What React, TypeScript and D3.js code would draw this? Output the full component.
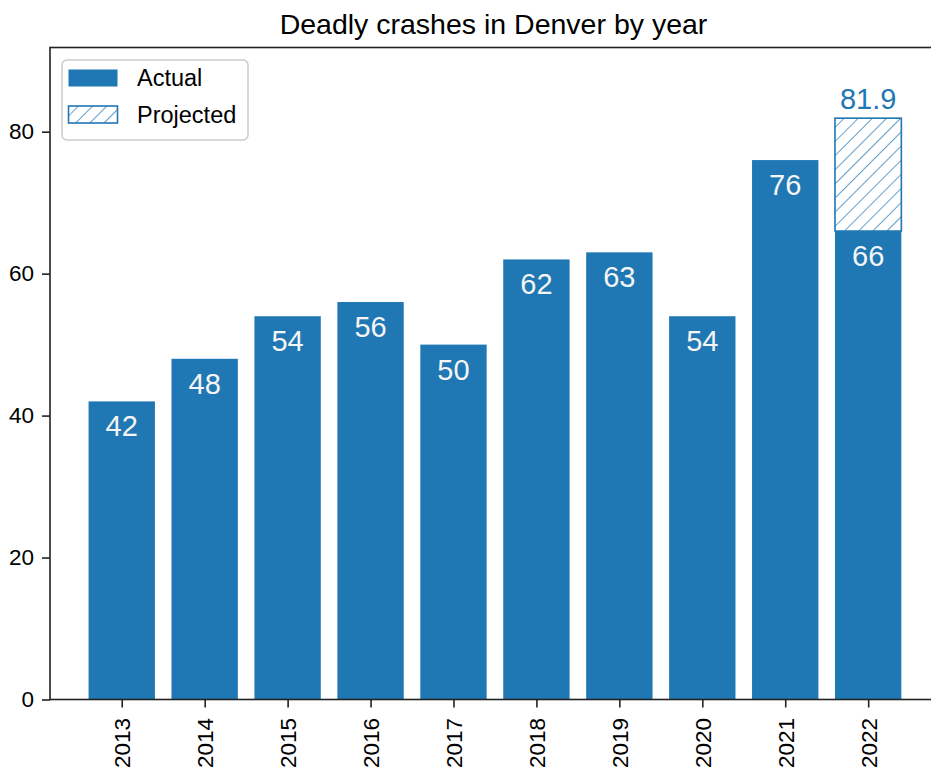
import React, { useEffect, useRef } from "react";
import { axisBottom, axisLeft, scaleLinear, select } from "d3";

// data
const years = ["2013", "2014", "2015", "2016", "2017", "2018", "2019", "2020", "2021", "2022"];
const actual = [42, 48, 54, 56, 50, 62, 63, 54, 76, 66];
const projected: (number | null)[] = [null, null, null, null, null, null, null, null, null, 81.9];
const yTicks = [0, 20, 40, 60, 80];

const FONT = "'Liberation Sans', Arial, Helvetica, sans-serif";
const BLUE = "#1f77b4";
const HATCH = 10;

export default function App() {
  const xAxisRef = useRef<SVGGElement>(null);
  const yAxisRef = useRef<SVGGElement>(null);

  const width = 931;
  const height = 771;
  const plot = { left: 50, right: 937, top: 47.5, bottom: 699.5 };

  const xScale = scaleLinear()
    .domain([-0.865, years.length - 1 + 0.83])
    .range([plot.left, plot.right]);
  const yScale = scaleLinear().domain([0, 91.86]).range([plot.bottom, plot.top]);
  const barW = xScale(0.8) - xScale(0);

  useEffect(() => {
    const gx = select(xAxisRef.current);
    gx.selectAll("*").remove();
    gx.call(
      axisBottom(xScale)
        .tickValues(years.map((_, i) => i))
        .tickFormat((i: any) => years[i])
        .tickSize(8)
        .tickSizeOuter(0)
    );
    gx.select(".domain").remove();
    gx.selectAll(".tick line").attr("stroke", "#222").attr("stroke-width", 1.6);
    gx.selectAll(".tick text")
      .attr("transform", "rotate(-90)")
      .attr("text-anchor", "end")
      .attr("x", -18.5)
      .attr("y", 0)
      .attr("dy", "0.36em")
      .attr("fill", "#000");
    gx.attr("font-family", FONT).attr("font-size", 22.5);

    const gy = select(yAxisRef.current);
    gy.selectAll("*").remove();
    gy.call(axisLeft(yScale).tickValues(yTicks).tickSize(8).tickPadding(8).tickSizeOuter(0));
    gy.select(".domain").remove();
    gy.selectAll(".tick line").attr("stroke", "#222").attr("stroke-width", 1.6);
    gy.selectAll(".tick text").attr("fill", "#000");
    gy.attr("font-family", FONT).attr("font-size", 22.5);
  }, []);

  return (
    <svg
      width={width}
      height={height}
      style={{ position: "absolute", left: 0, top: 0, background: "white" }}
    >
      <defs>
        <pattern
          id="hatch"
          patternUnits="userSpaceOnUse"
          width={HATCH}
          height={HATCH}
          patternTransform="rotate(45)"
        >
          <rect width={HATCH} height={HATCH} fill="white" />
          <line x1={0} y1={0} x2={0} y2={HATCH} stroke={BLUE} strokeWidth={1.4} />
        </pattern>
      </defs>

      <text
        x={(plot.left + plot.right) / 2}
        y={34}
        textAnchor="middle"
        fontFamily={FONT}
        fontSize={28.5}
        fill="#000"
      >
        Deadly crashes in Denver by year
      </text>

      {/* actual bars */}
      {actual.map((v, i) => (
        <rect
          key={"a" + i}
          x={xScale(i) - barW / 2}
          y={yScale(v)}
          width={barW}
          height={yScale(0) - yScale(v)}
          fill={BLUE}
        />
      ))}

      {/* projected part */}
      {projected.map((p, i) =>
        p == null ? null : (
          <g key={"p" + i}>
            <rect
              x={xScale(i) - barW / 2}
              y={yScale(p)}
              width={barW}
              height={yScale(actual[i]) - yScale(p)}
              fill="url(#hatch)"
              stroke={BLUE}
              strokeWidth={1.6}
            />
            <text
              x={xScale(i)}
              y={yScale(p) - 9}
              textAnchor="middle"
              fontFamily={FONT}
              fontSize={29}
              fill={BLUE}
            >
              {p}
            </text>
          </g>
        )
      )}

      {/* value labels */}
      {actual.map((v, i) => (
        <text
          key={"l" + i}
          x={xScale(i)}
          y={yScale(v) + 35}
          textAnchor="middle"
          fontFamily={FONT}
          fontSize={29}
          fill="#f5f5f5"
        >
          {v}
        </text>
      ))}

      {/* frame */}
      <rect
        x={plot.left}
        y={plot.top}
        width={plot.right - plot.left}
        height={plot.bottom - plot.top}
        fill="none"
        stroke="#222"
        strokeWidth={1.6}
      />

      <g ref={xAxisRef} transform={`translate(0,${plot.bottom})`} />
      <g ref={yAxisRef} transform={`translate(${plot.left},0)`} />

      {/* legend */}
      <g fontFamily={FONT} fontSize={23.5}>
        <rect x={62} y={60} width={186} height={80} rx={5} fill="white" fillOpacity={0.8} stroke="#cccccc" strokeWidth={1.5} />
        <rect x={68.5} y={69.5} width={49} height={17} fill={BLUE} />
        <text x={137} y={86} fill="#000">Actual</text>
        <rect x={68.5} y={106} width={49} height={17} fill="url(#hatch)" stroke={BLUE} strokeWidth={1.6} />
        <text x={137} y={122.5} fill="#000">Projected</text>
      </g>
    </svg>
  );
}
